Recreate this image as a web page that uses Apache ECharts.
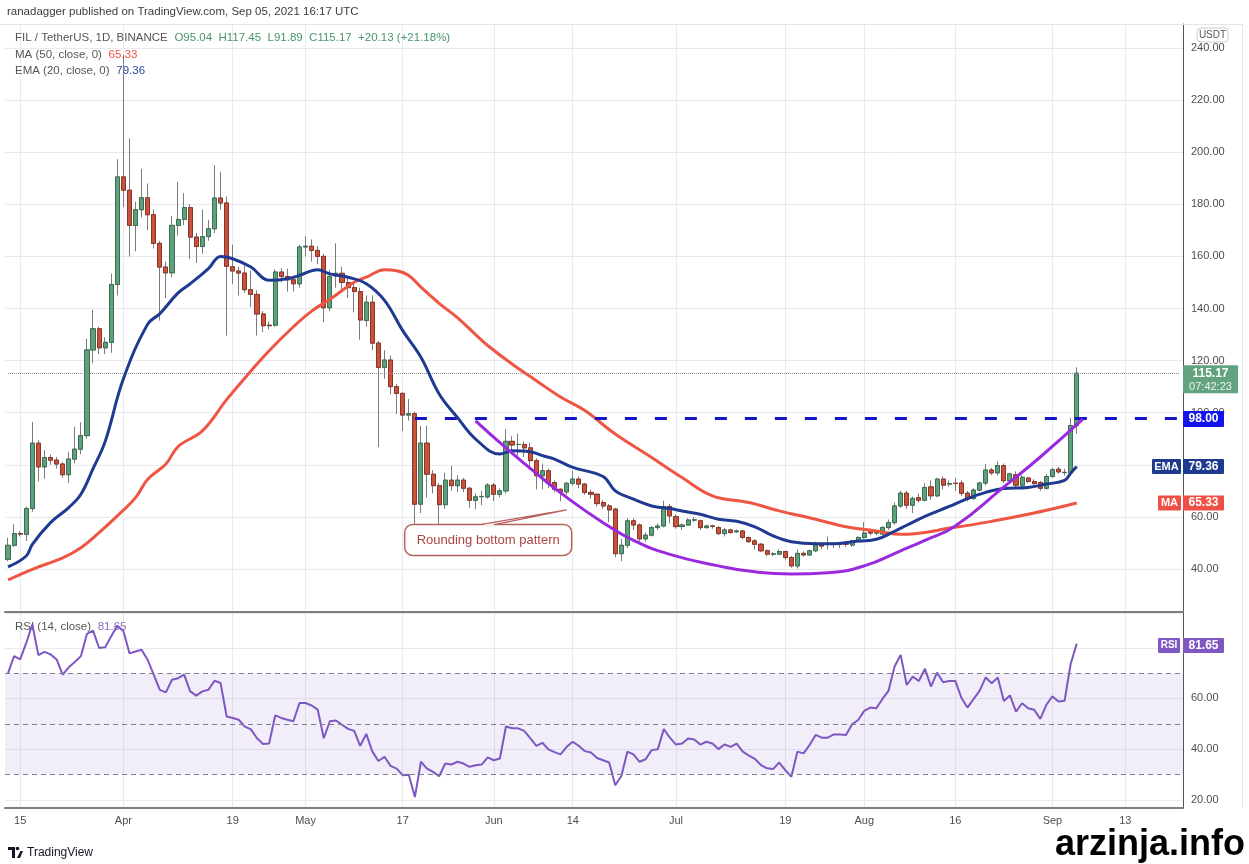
<!DOCTYPE html>
<html style="height: 100%">
<head>
<meta charset="utf-8">
</head>
<body style="height: 100%; margin: 0; background: #fff">
<div id="container" style="width: 1249px; height: 864px"></div>
<script type="text/javascript" src="https://cdn.jsdelivr.net/npm/echarts@6/dist/echarts.min.js"></script>
<script type="text/javascript">

// daily candles, 2021-03-13 .. 2021-09-05 (FIL/USDT, Binance)
var opens = [43.7,49.1,53.6,53.3,63.2,88.3,79.2,82.8,81.8,80.3,
  76.2,82.2,86.0,91.2,124.1,132.2,124.9,127,149.2,190.5,
  185.4,171.9,177.9,182.5,176,165,155.9,153.7,171.9,174.2,
  178.7,167.4,163.8,167.6,170.6,182.4,180.5,156,154.4,153.6,
  147.2,145.4,137.9,133.6,133.6,154,152.3,151,149.5,163.6,
  163.9,162.3,160,140.3,152.5,153.5,150,148,146.5,135.4,
  142.4,126.7,117.4,120.2,110,107.4,99.1,99.6,64.9,88.3,
  76.4,72,64.7,74.1,72,74.1,71,66.4,67.8,67.7,
  72.2,68.7,70,89,87.8,87.8,86.5,81.6,75.8,77.7,
  73.2,70.6,69.6,72.9,74.5,72.6,69.4,68.7,65.5,64.2,
  63,45.9,49.1,58.5,56.9,51.6,53,55.9,56.5,64,
  60.1,56.3,56.9,58.8,58.5,55.9,56.5,55.9,53.6,55,
  54.3,54.6,52.1,50.8,49.5,47,45.7,45.7,46.7,44.4,
  41.2,46,45.4,47,49.2,49.4,49.5,49.4,49.5,49.2,
  50.8,52.1,54.3,53.8,53.4,55.9,57.8,64.2,69.1,64.5,
  67.4,66.4,71.5,68.1,74.5,72.6,72.9,73,69.1,67.1,
  70.3,73,78,76.9,79.7,73.9,76.2,72.2,74.9,73.6,
  73.2,71,75.5,78.3,77,77,95.04];

var closes = [49.1,53.6,53.4,63.2,88.3,79.2,82.8,81.8,80.3,76.2,
  82.2,86.0,91.2,124.1,132.2,124.9,127,149.2,190.5,185.4,
  171.9,177.9,182.5,176,165,155.9,153.7,171.9,174.2,178.7,
  167.4,163.8,167.6,170.6,182.4,180.5,156.2,154.4,153.6,147.2,
  145.4,137.9,133.4,133.4,154,152.3,151,149.5,163.6,163.9,
  162.3,160,140.3,152.3,153.5,150,148,146.5,135.6,142.4,
  126.7,117.4,120.2,110,107.4,99.1,99.6,64.9,88.3,76.4,
  72,64.7,74.1,72,74.1,71,66.4,67.7,67.8,72.2,
  68.7,70,89,87.6,87.8,86.5,81.6,75.8,77.7,72.8,
  70.6,69.6,72.9,74.5,72.6,69.4,68.7,65.1,64.2,62.7,
  45.9,49.1,58.5,56.9,51.6,53,55.9,56.5,64,60.4,
  56.3,56.9,58.8,58.9,55.9,56.5,56.4,53.6,55,54,
  54.6,52.1,50.5,49.5,47,45.7,45.8,46.7,44.4,41.2,
  46,45.4,47,49.2,48.8,49.6,49.4,49.6,49.5,50.8,
  52.1,53.8,53.8,53.9,55.9,57.8,64.2,69.1,64.5,67.1,
  66.4,71.3,68.1,74.5,72.2,72.8,72.8,69.1,67.1,70.3,
  73,78,76.9,79.7,73.9,76.5,72.2,75.2,73.6,72.8,
  71,75.5,78.1,77.3,77.1,95.04,115.17];

var lows = [43,48.5,52.5,50.8,62,73.6,74.6,80,78.5,75,
  73,80.5,84,90,119,122.5,122.5,123,145,179,
  160,162,175,170,163,135.4,144,152,168,172,
  159,157.5,161,166,169,178,129.6,149.5,145,146,
  140.5,129.6,130.9,132,133,150,146.5,146.5,148,160,
  158,157,134.7,139,148,146,144,138.5,128,133,
  124,86.7,113,107,99.5,93,97,54.6,61.5,67.4,
  69,54.6,63,70,69.5,69.5,63.5,63,64.5,67,
  66,67.5,69,84,83.5,83,78,70.6,70.5,71,
  69.5,66,68.5,72,71,68.5,67,64,63,58,
  44.5,43,48,55,50.5,50.5,52.5,55,56,57.5,
  55.5,55,56.5,58,55,55.5,55.5,53,52.5,53.5,
  53.8,51.5,50,47.5,46.5,45,45,45.5,43.5,40.5,
  40.2,44.8,45,46.5,47.5,47.5,48,48,48.5,48.5,
  50.3,51.5,53,53,53,55,57,63.5,63,61.5,
  65.5,66,66.5,67.5,70.5,71.5,70,68,66,66.5,
  69.8,72,76,76,73,73,71.5,71.5,73,72,
  70,70.5,75,76.5,75.8,76.5,91.89];

var highs = [52,57.2,54.5,64,96.5,89.5,85.6,84,83,81,
  85,94.6,96.3,128.4,139.5,133,129,153.4,197.3,237.3,
  205.3,181,193.6,188,178,166,158,175.5,188.6,184.3,
  180,169,178,174,195,192.5,183,164.5,156,156.5,
  154.6,147,139,135,155,155.5,155.3,152,164.5,167.7,
  166.5,164,161,154.8,165,156,152,149.5,148,145,
  145,127.5,124,122,111,108,105.3,100.5,95,95,
  78,73,77,79.6,76,75,71.5,69,70,73,
  73,71,93.7,91,92,89,88.5,82.5,80.5,78.5,
  74,71,73.5,77.7,75.5,73,70.5,69,66.5,65,
  63.5,51.5,59.5,59.5,57.5,54,56.5,57.5,66.2,65,
  61,57.5,59.5,60,59,57,57,56.5,55.8,55.5,
  55.2,55,52.5,51.5,50,47.5,46.5,47.5,47,45,
  47.5,46.8,47.5,50.5,49.8,52.5,50.3,50.3,50.3,51.2,
  52.6,58,55,54.8,56.5,59,65.5,70,70,67.8,
  69,73,74,75,75.5,74,75,74,70,71,
  73.5,80.3,78.8,81.3,80.5,77,77.5,76,75.5,74.5,
  73.8,76.5,79,79.3,78.5,98,117.45];

// indicator lines: [day index, value]
var ema20 = [[0,40.8],[3,45],[4,49.5],[7,57.8],[10,63.6],[12,68.7],[14,78.5],[16,89],
  [19,113],[23,134],[25,138],[28,146],[30,149.5],[33,155.3],[35,160],[37,159.1],
  [40,155.9],[43,150.8],[46,151.4],[48,152.7],[51,154.9],[53,153.3],[56,152],[59,149.5],
  [62,143.1],[65,131.5],[68,121.3],[71,107.2],[74,98.2],[77,89.9],[81,84.1],[83,85.4],
  [86,85],[88,83.5],[90,82.2],[93,79],[98,75.5],[100,70],[103,66.8],[106,64.2],
  [109,63.2],[111,62.3],[114,61],[117,59.1],[120,58.3],[123,56.2],[126,52.7],[129,50.5],
  [133,49.7],[136,49.7],[139,50.5],[143,51.4],[146,54.5],[148,56.8],[151,60.2],[155,64],
  [158,67],[161,69.4],[164,70.9],[168,71.3],[171,72.6],[174,74],[175,76.8],[176,79.36]];

var ma50 = [[0,35.8],[4,39.9],[9,44.3],[12,48.2],[15,54],[18,60.4],[21,67.4],[23,74.5],
  [26,80.3],[28,87],[32,93],[36,105],[40,116],[43,123.8],[47,133],[50,139],
  [53,143.5],[57,150.1],[59,152],[62,154.9],[64,154.5],[66,152.7],[68,148.2],[71,142],
  [74,136.5],[77,130],[79,125.8],[83,118.7],[87,112.3],[91,106],[95,100.8],[100,91.8],
  [106,82.8],[111,75.1],[116,68.1],[122,65.5],[127,62.3],[133,59.1],[138,56.2],[143,54.6],
  [147,53.3],[156,56],[162,58.3],[168,61],[173,63.6],[176,65.33]];

// hand-drawn rounding bottom arc
var arcPts = [[77,96.9],[82,86.5],[87,76.7],[92,67.5],[98,57.8],[103,51],[109,45.6],
  [117,41.2],[122,39.2],[129,38.1],[135,38.6],[141,41.2],[147,47],[151,51],[156,56.5],
  [164,71.5],[170,83],[177,97.5]];

var rsi = [70.0,76.7,75.4,81.9,89.2,77.1,78.4,77.4,75.4,69.4,
  72.3,74.4,76.7,85.5,86.8,79.9,80.2,84.6,88.6,86.6,
  77.8,78.5,79.2,75.2,69.3,63.4,62.4,67.4,68.0,69.4,
  62.8,61.1,62.8,63.4,67.0,66.1,52.9,52.3,51.6,48.9,
  47.8,44.3,42.0,42.2,53.3,52.3,51.6,51.0,58.2,58.2,
  57.2,55.6,44.3,51.0,51.3,49.6,48.0,47.2,41.3,46.0,
  39.0,35.3,37.0,33.4,32.3,29.7,29.9,21.1,35.0,32.3,
  31.0,29.3,34.3,33.9,35.0,34.3,33.0,33.6,33.9,36.7,
  35.6,36.3,48.9,48.2,48.2,47.2,44.3,41.3,42.5,39.9,
  38.8,37.9,40.9,42.9,41.3,39.2,38.7,36.5,35.6,34.7,
  25.7,29.4,39.0,37.9,35.0,36.0,39.6,39.9,47.9,44.5,
  41.8,42.2,44.2,43.8,41.8,42.9,42.2,40.0,41.8,40.9,
  42.2,39.0,37.4,36.1,33.7,32.4,32.1,34.7,31.7,29.1,
  39.0,38.3,41.6,45.6,44.5,44.5,45.8,45.8,45.6,49.8,
  51.5,55.1,56.4,56.1,59.8,63.0,72.6,77.2,65.3,68.6,
  66.9,71.7,64.7,70.2,66.4,66.9,66.9,60.3,56.4,59.7,
  63.0,68.3,66.0,68.3,59.0,61.2,54.8,58.1,56.1,55.5,
  51.9,57.5,60.8,58.8,59.1,73.6,81.65];

var tickDates = ['2021-03-15','2021-04-01','2021-04-19','2021-05-01','2021-05-17','2021-06-01',
  '2021-06-14','2021-07-01','2021-07-19','2021-08-01','2021-08-16','2021-09-01','2021-09-13'];
var months = ['Jan','Feb','Mar','Apr','May','Jun','Jul','Aug','Sep','Oct','Nov','Dec'];

var breakout = 98.00;
var lastClose = 115.17;
var lastEma = 79.36;
var lastMa = 65.33;
var lastRsi = 81.65;

// axis categories: one per day, with empty days to the right
var days = [];
for (var i = 0; i < 194; i++) {
    days.push(new Date(Date.UTC(2021, 2, 13 + i)).toISOString().slice(0, 10));
}

var candles = opens.map(function (o, i) { return [o, closes[i], lows[i], highs[i]]; });
var bodies = opens.map(function (o, i) {
    return [o, closes[i], Math.min(o, closes[i]), Math.max(o, closes[i])];
});

var gridColor = '#e9eaee';
var sepColor = '#7d7f85';
var labelColor = '#4e4e4e';
var font = 'Liberation Sans';

var isTick = function (idx, val) { return tickDates.indexOf(val) >= 0; };
var fmtDay = function (val) {
    var d = new Date(val + 'T00:00:00Z');
    return d.getUTCDate() === 1 ? months[d.getUTCMonth()] : String(d.getUTCDate());
};

var dom = document.getElementById('container');
var myChart = echarts.init(dom);

var option = {
    animation: false,
    backgroundColor: '#ffffff',
    textStyle: { fontFamily: font },
    grid: [
        { left: 5, right: 66, top: 24, height: 588 },
        { left: 5, right: 66, top: 613, height: 195 }
    ],
    xAxis: [
        {
            type: 'category', gridIndex: 0, data: days, boundaryGap: true,
            axisLine: { show: true, onZero: false, lineStyle: { color: sepColor, width: 2 } },
            axisTick: { show: false }, axisLabel: { show: false },
            splitLine: { show: true, interval: isTick, alignWithLabel: true, lineStyle: { color: gridColor } }
        },
        {
            type: 'category', gridIndex: 1, data: days, boundaryGap: true,
            axisLine: { show: true, onZero: false, lineStyle: { color: sepColor, width: 2 } },
            axisTick: { show: false },
            axisLabel: { interval: isTick, formatter: fmtDay, color: labelColor, fontSize: 11, margin: 7, fontFamily: font },
            splitLine: { show: true, interval: isTick, alignWithLabel: true, lineStyle: { color: gridColor } }
        }
    ],
    yAxis: [
        {
            type: 'value', gridIndex: 0, position: 'right', min: 23.5, max: 249.2, splitNumber: 11,
            axisLine: { show: true, lineStyle: { color: '#555' } }, axisTick: { show: false },
            axisLabel: { formatter: function (v) { return v.toFixed(2); }, showMinLabel: false, showMaxLabel: false,
                color: labelColor, fontSize: 11, margin: 8, fontFamily: font },
            splitLine: { lineStyle: { color: gridColor } }
        },
        {
            type: 'value', gridIndex: 1, position: 'right', min: 16.75, max: 93.73, splitNumber: 4,
            axisLine: { show: true, lineStyle: { color: '#555' } }, axisTick: { show: false },
            axisLabel: { formatter: function (v) { return v.toFixed(2); }, showMinLabel: false, showMaxLabel: false,
                color: labelColor, fontSize: 11, margin: 8, fontFamily: font },
            splitLine: { lineStyle: { color: gridColor } }
        }
    ],
    series: [
        {
            name: 'wicks', type: 'candlestick', xAxisIndex: 0, yAxisIndex: 0,
            data: candles, barWidth: 4.6, silent: true, z: 2,
            itemStyle: { color: '#5f9f7b', color0: '#c9523e', borderColor: '#7c7c7c', borderColor0: '#7c7c7c', borderWidth: 1 },
            markLine: {
                silent: true, symbol: 'none', animation: false,
                label: { show: false },
                data: [
                    [{ coord: [0, lastClose] }, { coord: [193, lastClose] }],
                    [{ coord: [67, breakout] }, { coord: [193, breakout] }]
                ],
                lineStyle: { color: '#8a8a8a', type: 'dotted', width: 1 }
            }
        },
        {
            name: 'FIL', type: 'candlestick', xAxisIndex: 0, yAxisIndex: 0,
            data: bodies, barWidth: 4.6, silent: true, z: 3,
            itemStyle: { color: '#5f9f7b', color0: '#c9523e', borderColor: '#3a6f52', borderColor0: '#8c3426', borderWidth: 1 }
        },
        {
            name: 'MA 50', type: 'line', xAxisIndex: 0, yAxisIndex: 0, data: ma50,
            smooth: 0.4, showSymbol: false, silent: true, z: 4,
            lineStyle: { color: '#ef5543', width: 3 }
        },
        {
            name: 'EMA 20', type: 'line', xAxisIndex: 0, yAxisIndex: 0, data: ema20,
            smooth: 0.4, showSymbol: false, silent: true, z: 5,
            lineStyle: { color: '#1f3a91', width: 3 }
        },
        {
            name: 'arc', type: 'line', xAxisIndex: 0, yAxisIndex: 0, data: arcPts,
            smooth: 0.5, showSymbol: false, silent: true, z: 5,
            lineStyle: { color: '#9b2ade', width: 3 }
        },
        {
            name: 'breakout', type: 'line', xAxisIndex: 0, yAxisIndex: 0, data: [],
            markLine: {
                silent: true, symbol: 'none', label: { show: false },
                data: [[{ coord: [67, breakout] }, { coord: [193, breakout] }]],
                lineStyle: { color: '#1515c8', type: [12, 18], width: 3 }
            },
            z: 6
        },
        {
            name: 'RSI', type: 'line', xAxisIndex: 1, yAxisIndex: 1, data: rsi,
            showSymbol: false, silent: true, z: 4,
            lineStyle: { color: '#7e57c2', width: 2 },
            markArea: {
                silent: true,
                itemStyle: { color: 'rgba(126,87,194,0.1)' },
                data: [[{ yAxis: 30 }, { yAxis: 70 }]]
            },
            markLine: {
                silent: true, symbol: 'none', label: { show: false },
                lineStyle: { color: '#7f8087', type: [5, 4], width: 1 },
                data: [{ yAxis: 70 }, { yAxis: 50 }, { yAxis: 30 }]
            }
        }
    ]
};

// the breakout line is drawn by its own series; drop the duplicate from the wick series
option.series[0].markLine.data = [[{ coord: [0, lastClose] }, { coord: [193, lastClose] }]];

myChart.setOption(option);

function py(v) { return myChart.convertToPixel({ yAxisIndex: 0 }, v); }
function ry(v) { return myChart.convertToPixel({ yAxisIndex: 1 }, v); }

function tag(x, yMid, w, h, bg, txt, size) {
    return [
        { type: 'rect', shape: { x: x, y: yMid - h / 2, width: w, height: h, r: 1 }, style: { fill: bg }, z: 100 },
        { type: 'text', x: x + w / 2, y: yMid, z: 101,
          style: { text: txt, fill: '#fff', font: 'bold ' + (size || 12) + 'px ' + font, align: 'center', verticalAlign: 'middle' } }
    ];
}

var g = [];
var axX = 1183;

// header
g.push({ type: 'text', x: 7, y: 12, style: { text: 'ranadagger published on TradingView.com, Sep 05, 2021 16:17 UTC',
    fill: '#3c3c3c', font: '11.5px ' + font, verticalAlign: 'middle' } });
g.push({ type: 'text', x: 15, y: 38, style: {
    text: '{a|FIL / TetherUS, 1D, BINANCE}  {b|O95.04  H117.45  L91.89  C115.17  +20.13 (+21.18%)}',
    verticalAlign: 'middle',
    rich: { a: { fill: '#555', font: '11.5px ' + font }, b: { fill: '#47966c', font: '11.5px ' + font } } } });
g.push({ type: 'text', x: 15, y: 55, style: { text: '{a|MA (50, close, 0)}  {b|65.33}', verticalAlign: 'middle',
    rich: { a: { fill: '#555', font: '11.5px ' + font }, b: { fill: '#ef5543', font: '11.5px ' + font } } } });
g.push({ type: 'text', x: 15, y: 71, style: { text: '{a|EMA (20, close, 0)}  {b|79.36}', verticalAlign: 'middle',
    rich: { a: { fill: '#555', font: '11.5px ' + font }, b: { fill: '#2b4a9c', font: '11.5px ' + font } } } });
g.push({ type: 'text', x: 15, y: 627, style: { text: '{a|RSI (14, close)}  {b|81.65}', verticalAlign: 'middle',
    rich: { a: { fill: '#555', font: '11.5px ' + font }, b: { fill: '#8c6cc9', font: '11.5px ' + font } } } });

// frame bits
g.push({ type: 'line', shape: { x1: 0, y1: 24.5, x2: 1242, y2: 24.5 }, style: { stroke: '#e3e4e8', lineWidth: 1 }, z: 1 });
g.push({ type: 'line', shape: { x1: 1242.5, y1: 24, x2: 1242.5, y2: 808 }, style: { stroke: '#e3e4e8', lineWidth: 1 }, z: 1 });

// USDT badge
g.push({ type: 'rect', shape: { x: 1197, y: 28, width: 31, height: 14, r: 4 }, style: { fill: '#fff', stroke: '#c9cbd1' }, z: 100 });
g.push({ type: 'text', x: 1212.5, y: 35.5, z: 101, style: { text: 'USDT', fill: '#555', font: '10px ' + font, align: 'center', verticalAlign: 'middle' } });

// price tags
var yc = py(lastClose);
g.push({ type: 'rect', shape: { x: axX, y: yc - 8, width: 55, height: 28, r: 1 }, style: { fill: '#63a27f' }, z: 100 });
g.push({ type: 'text', x: axX + 27.5, y: yc + 1, z: 101, style: { text: lastClose.toFixed(2), fill: '#fff', font: 'bold 12px ' + font, align: 'center', verticalAlign: 'middle' } });
g.push({ type: 'text', x: axX + 27.5, y: yc + 13.5, z: 101, style: { text: '07:42:23', fill: '#eef6f1', font: '11px ' + font, align: 'center', verticalAlign: 'middle' } });

g = g.concat(tag(axX, py(breakout) + 1, 41, 16, '#1212ee', breakout.toFixed(2)));
g = g.concat(tag(axX, py(lastEma), 41, 15, '#1d3a8e', lastEma.toFixed(2)));
g = g.concat(tag(axX - 31, py(lastEma), 29, 15, '#1d3a8e', 'EMA', 11));
g = g.concat(tag(axX, py(lastMa), 41, 15, '#ef5045', lastMa.toFixed(2)));
g = g.concat(tag(axX - 25, py(lastMa), 23, 15, '#ef5045', 'MA', 11));
g = g.concat(tag(axX, ry(lastRsi) + 2, 41, 15, '#7e57c2', lastRsi.toFixed(2)));
g = g.concat(tag(axX - 25, ry(lastRsi) + 2, 22, 15, '#7e57c2', 'RSI', 10));

// annotation callout
var tip = myChart.convertToPixel({ xAxisIndex: 0, yAxisIndex: 0 }, [92, 62.7]);
var bx = tip[0] - 162, by = tip[1] + 14.5;
g.push({ type: 'rect', shape: { x: bx, y: by, width: 167, height: 31, r: 8 }, style: { fill: '#fff', stroke: '#b8615b', lineWidth: 1.5 }, z: 90 });
g.push({ type: 'line', shape: { x1: bx + 79, y1: by, x2: bx + 89, y2: by }, style: { stroke: '#fff', lineWidth: 2 }, z: 91 });
g.push({ type: 'polyline', shape: { points: [[bx + 77, by], tip, [bx + 91, by]] }, style: { stroke: '#b8615b', lineWidth: 1.3, fill: null }, z: 91 });
g.push({ type: 'text', x: bx + 83.5, y: by + 16, z: 92, style: { text: 'Rounding bottom pattern', fill: '#a9463f', font: '13px ' + font, align: 'center', verticalAlign: 'middle' } });

// footer
g.push({ type: 'polygon', shape: { points: [[8, 847], [15, 847], [15, 858], [12, 858], [12, 850], [8, 850]] }, style: { fill: '#131722' } });
g.push({ type: 'circle', shape: { cx: 17.5, cy: 848.5, r: 1.8 }, style: { fill: '#131722' } });
g.push({ type: 'polygon', shape: { points: [[17, 858], [20.5, 851], [23, 851], [20, 858]] }, style: { fill: '#131722' } });
g.push({ type: 'text', x: 27, y: 852.5, style: { text: 'TradingView', fill: '#131722', font: '12px ' + font, verticalAlign: 'middle' } });
g.push({ type: 'text', x: 1245, y: 845, style: { text: 'arzinja.info', fill: '#000', font: 'bold 36px ' + font, align: 'right', verticalAlign: 'middle' } });

myChart.setOption({ graphic: g });

</script>
</body>
</html>
